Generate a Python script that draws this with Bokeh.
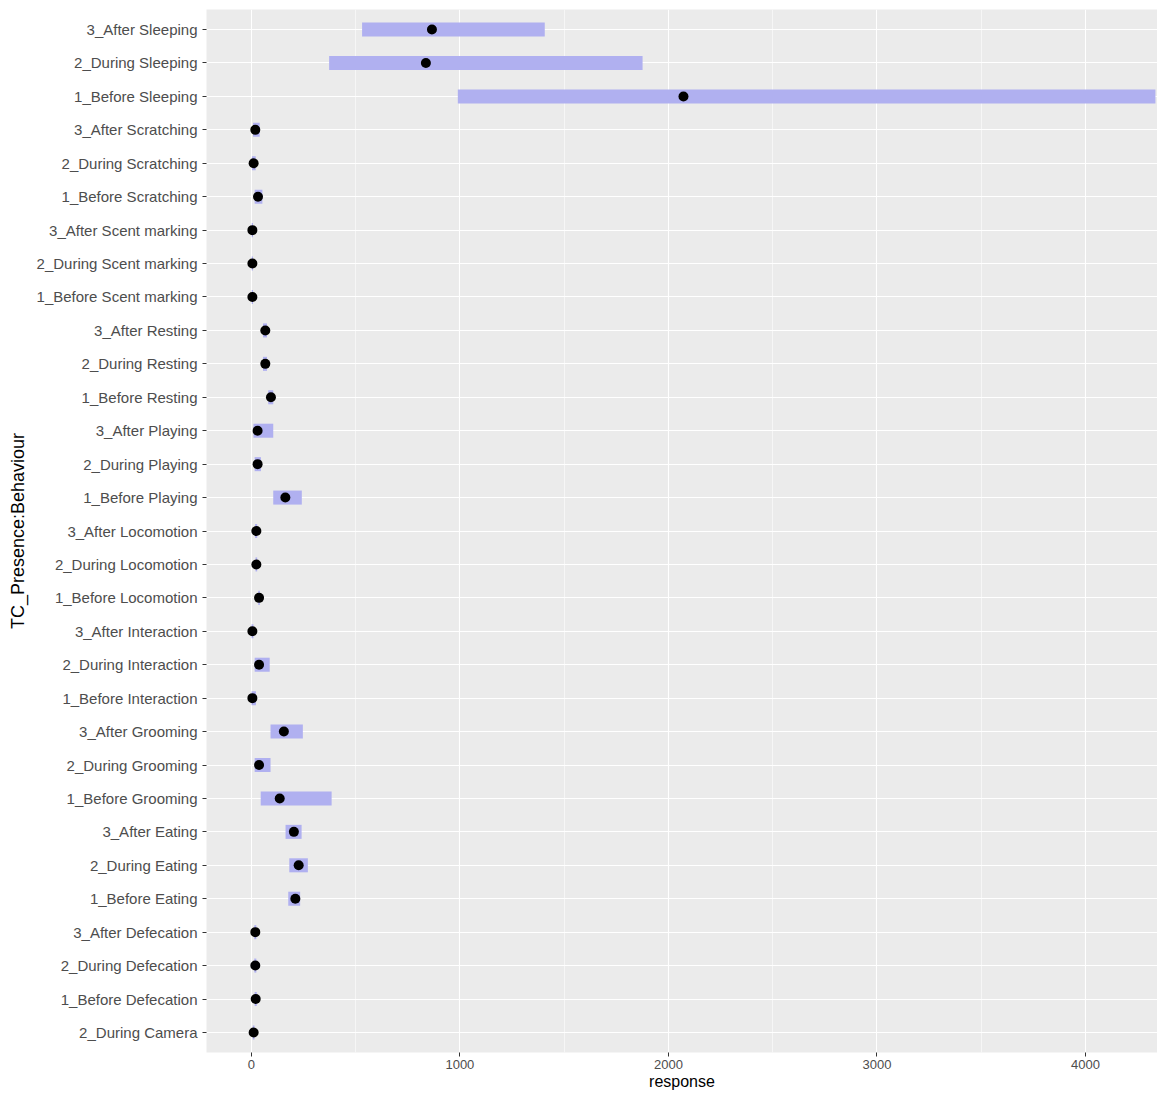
from bokeh.plotting import figure
from bokeh.models import Range1d, FixedTicker, ColumnDataSource
from bokeh.embed import file_html
from bokeh.resources import INLINE

labels = [
    "2_During Camera",
    "1_Before Defecation", "2_During Defecation", "3_After Defecation",
    "1_Before Eating", "2_During Eating", "3_After Eating",
    "1_Before Grooming", "2_During Grooming", "3_After Grooming",
    "1_Before Interaction", "2_During Interaction", "3_After Interaction",
    "1_Before Locomotion", "2_During Locomotion", "3_After Locomotion",
    "1_Before Playing", "2_During Playing", "3_After Playing",
    "1_Before Resting", "2_During Resting", "3_After Resting",
    "1_Before Scent marking", "2_During Scent marking", "3_After Scent marking",
    "1_Before Scratching", "2_During Scratching", "3_After Scratching",
    "1_Before Sleeping", "2_During Sleeping", "3_After Sleeping",
]
response = [11, 21, 19, 19, 211, 227, 204, 136, 37, 156, 5, 37, 5, 37, 24, 24,
            163, 30, 30, 94, 67, 67, 5, 5, 5, 32, 11, 19, 2072, 837, 866]
lower = [7, 16, 14, 14, 177, 182, 164, 45, 16, 92, 1, 16, 1, 33, 20, 18,
         105, 16, 10, 81, 56, 56, 2, 2, 2, 16, 3, 8, 990, 373, 531]
upper = [15, 26, 24, 24, 234, 271, 241, 385, 92, 247, 22, 88, 10, 41, 28, 28,
         242, 46, 105, 105, 75, 75, 8, 8, 8, 53, 21, 40, 4335, 1876, 1407]
x_ticks = [0, 1000, 2000, 3000, 4000]
x_minor = [500, 1500, 2500, 3500]

pos = list(range(1, len(labels) + 1))
src = ColumnDataSource(dict(y=pos, response=response, lower=lower, upper=upper))

p = figure(width=1157, height=1092, output_backend="svg", toolbar_location=None,
           x_range=Range1d(-215, 4345), y_range=Range1d(0.4, len(labels) + 0.6),
           min_border_left=206, min_border_right=0, min_border_top=9, min_border_bottom=38)
p.background_fill_color = "#EBEBEB"
p.border_fill_color = "white"
p.outline_line_color = None

p.hbar(y="y", left="lower", right="upper", height=0.42, source=src,
       fill_color="#B0B0F0", line_color=None)
p.scatter(x="response", y="y", source=src, size=10, fill_color="black", line_color=None)

p.xaxis.ticker = FixedTicker(ticks=x_ticks, minor_ticks=x_minor)
p.yaxis.ticker = FixedTicker(ticks=pos)
p.yaxis.major_label_overrides = {i: l for i, l in zip(pos, labels)}

p.xgrid.grid_line_color = "white"
p.xgrid.grid_line_width = 1.1
p.xgrid.minor_grid_line_color = "white"
p.xgrid.minor_grid_line_width = 0.55
p.ygrid.grid_line_color = "white"
p.ygrid.grid_line_width = 1.1

for ax in (p.xaxis, p.yaxis):
    ax.axis_line_color = None
    ax.major_tick_line_color = "#333333"
    ax.major_tick_in = 0
    ax.major_tick_out = 4
    ax.minor_tick_line_color = None
    ax.major_label_text_color = "#4D4D4D"
    ax.major_label_text_font = "Liberation Sans"
    ax.axis_label_text_font = "Liberation Sans"
    ax.axis_label_text_font_style = "normal"
    ax.axis_label_text_color = "black"

p.yaxis.major_label_text_font_size = "15px"
p.yaxis.major_label_standoff = 5
p.yaxis.axis_label = "TC_Presence:Behaviour"
p.yaxis.axis_label_text_font_size = "18px"
p.yaxis.axis_label_standoff = 6

p.xaxis.major_label_text_font_size = "13px"
p.xaxis.major_label_standoff = 3
p.xaxis.axis_label = "response"
p.xaxis.axis_label_text_font_size = "16px"
p.xaxis.axis_label_standoff = 1

open("out.html", "w").write(file_html(p, INLINE))
